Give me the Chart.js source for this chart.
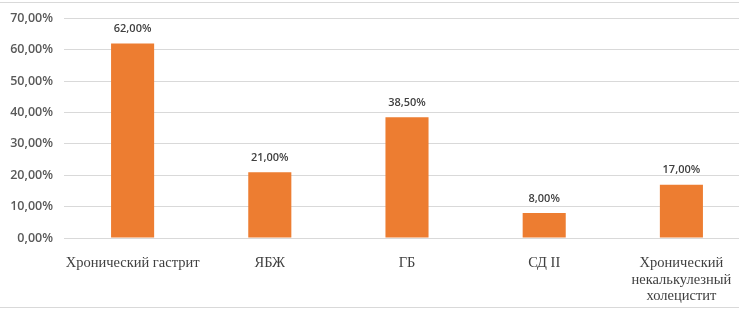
<!DOCTYPE html>
<html>
<head>
<meta charset="utf-8">
<script src="https://cdn.jsdelivr.net/npm/chart.js@4"></script>
<style>
    html, body { margin: 0; padding: 0; background: #fff; overflow: hidden; }
    #wrap { position: relative; width: 739px; height: 313px; overflow: hidden; }
    #frameTop { position: absolute; left: 0; top: 2px; width: 739px; height: 1px; background: #d9d9d9; }
    #frameBottom { position: absolute; left: 0; top: 307px; width: 739px; height: 1px; background: #d9d9d9; }
    #box { position: absolute; left: 0; top: 0; width: 750px; height: 313px; }
</style>
</head>
<body>
<div id="wrap">
    <div id="box"><canvas id="diseaseChart"></canvas></div>
    <div id="frameTop"></div>
    <div id="frameBottom"></div>
</div>
<script>
// Values
const categories = [
    'Хронический гастрит',
    'ЯБЖ',
    'ГБ',
    'СД II',
    ['Хронический', 'некалькулезный', 'холецистит']
];
const shares = [62.0, 21.0, 38.5, 8.0, 17.0];
const yTicks = [0, 10, 20, 30, 40, 50, 60, 70];

function pct(v) {
    return v.toFixed(2).replace('.', ',') + '%';
}

// Draw value labels above each bar
const valueLabels = {
    id: 'valueLabels',
    afterDatasetsDraw(chart) {
        const ctx = chart.ctx;
        const meta = chart.getDatasetMeta(0);
        ctx.save();
        ctx.font = '600 11px "Open Sans", sans-serif';
        ctx.fillStyle = '#404040';
        ctx.textAlign = 'center';
        ctx.textBaseline = 'bottom';
        meta.data.forEach((bar, i) => {
            ctx.fillText(pct(shares[i]), bar.x, bar.y - 9);
        });
        ctx.restore();
    }
};

const ctx = document.getElementById('diseaseChart').getContext('2d');

new Chart(ctx, {
    type: 'bar',
    data: {
        labels: categories,
        datasets: [{
            data: shares,
            backgroundColor: '#ED7D31',
            borderWidth: 0,
            categoryPercentage: 1,
            barPercentage: 0.314
        }]
    },
    options: {
        responsive: true,
        maintainAspectRatio: false,
        animation: false,
        layout: {
            padding: { top: 18, right: 0, bottom: 0, left: 0 }
        },
        plugins: {
            legend: { display: false },
            tooltip: { enabled: false }
        },
        scales: {
            x: {
                grid: { display: false },
                border: { display: false },
                ticks: {
                    color: '#404040',
                    font: { family: '"Liberation Serif", serif', size: 14.5, lineHeight: 1.14 },
                    padding: 9,
                    maxRotation: 0,
                    autoSkip: false
                },
                afterFit: s => { s.height = 75; }
            },
            y: {
                min: 0,
                max: 70,
                afterBuildTicks: s => { s.ticks = yTicks.map(v => ({ value: v })); },
                grid: { color: '#d9d9d9', drawTicks: false },
                border: { display: false },
                ticks: {
                    color: '#595959',
                    font: { family: '"Open Sans", sans-serif', size: 12.5, weight: '600' },
                    padding: 11,
                    callback: v => pct(v)
                },
                afterFit: s => { s.width = 64; }
            }
        }
    },
    plugins: [valueLabels]
});
</script>
</body>
</html>
